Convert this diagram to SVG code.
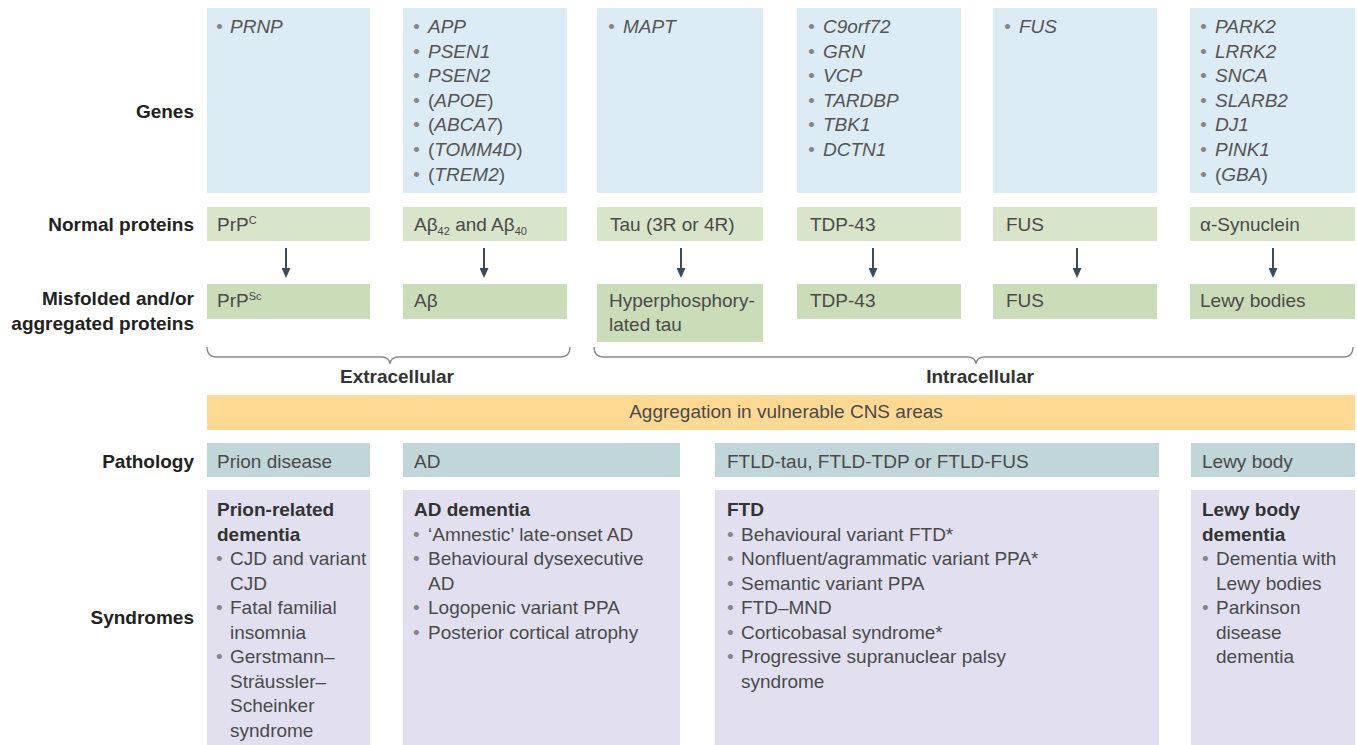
<svg xmlns="http://www.w3.org/2000/svg" width="1357" height="745" viewBox="0 0 1357 745">
<defs>
<style>
.gene{fill:#dcecf4}
.np{fill:#d8e5cb}
.mp{fill:#cbdcb8}
.pa{fill:#c1d6d8}
.sy{fill:#e2e0ef}
.agg{fill:#fdd994}
text{font-family:"Liberation Sans",Arial,sans-serif;font-size:19px;fill:#4a4a4a}
.gi{font-style:italic;fill:#555}
.up{font-style:normal}
.bul{fill:#858585}
.lbl{font-weight:bold;fill:#222;text-anchor:end}
.h{font-weight:bold;fill:#333}
.cap{font-weight:bold;fill:#333;text-anchor:middle}
.sm{font-size:11px}
.arrow{stroke:#3c4b5a;stroke-width:2;fill:none}
.brace{stroke:#8a8a8a;stroke-width:1.3;fill:none}
</style>
<marker id="ah" markerUnits="userSpaceOnUse" markerWidth="10" markerHeight="9" viewBox="0 0 10 9" refX="1" refY="4.5" orient="auto">
<path d="M0,0 L10,4.5 L0,9 z" fill="#3c4b5a"/>
</marker>
</defs>
<rect width="1357" height="745" fill="#ffffff"/>

<g id="row-labels">
<text class="lbl" x="194" y="118">Genes</text>
<text class="lbl" x="194" y="231">Normal proteins</text>
<text class="lbl" x="194" y="305">Misfolded and/or</text>
<text class="lbl" x="194" y="330">aggregated proteins</text>
<text class="lbl" x="194" y="468">Pathology</text>
<text class="lbl" x="194" y="624">Syndromes</text>
</g>

<g id="genes-prion">
<rect class="gene" x="207" y="8" width="163" height="185"/>
<text class="gi"><tspan class="bul" x="216" y="33">•</tspan><tspan x="230" y="33">PRNP</tspan></text>
</g>
<g id="genes-ad">
<rect class="gene" x="403" y="8" width="164" height="185"/>
<text class="gi"><tspan class="bul" x="413" y="33">•</tspan><tspan x="428" y="33">APP</tspan></text>
<text class="gi"><tspan class="bul" x="413" y="57.6">•</tspan><tspan x="428" y="57.6">PSEN1</tspan></text>
<text class="gi"><tspan class="bul" x="413" y="82.2">•</tspan><tspan x="428" y="82.2">PSEN2</tspan></text>
<text class="gi"><tspan class="bul" x="413" y="106.8">•</tspan><tspan x="428" y="106.8"><tspan class="up">(</tspan>APOE<tspan class="up">)</tspan></tspan></text>
<text class="gi"><tspan class="bul" x="413" y="131.4">•</tspan><tspan x="428" y="131.4"><tspan class="up">(</tspan>ABCA7<tspan class="up">)</tspan></tspan></text>
<text class="gi"><tspan class="bul" x="413" y="156">•</tspan><tspan x="428" y="156"><tspan class="up">(</tspan>TOMM4D<tspan class="up">)</tspan></tspan></text>
<text class="gi"><tspan class="bul" x="413" y="180.6">•</tspan><tspan x="428" y="180.6"><tspan class="up">(</tspan>TREM2<tspan class="up">)</tspan></tspan></text>
</g>
<g id="genes-tau">
<rect class="gene" x="597" y="8" width="166" height="185"/>
<text class="gi"><tspan class="bul" x="608" y="33">•</tspan><tspan x="623" y="33">MAPT</tspan></text>
</g>
<g id="genes-tdp">
<rect class="gene" x="797" y="8" width="164" height="185"/>
<text class="gi"><tspan class="bul" x="808" y="33">•</tspan><tspan x="823" y="33">C9orf72</tspan></text>
<text class="gi"><tspan class="bul" x="808" y="57.6">•</tspan><tspan x="823" y="57.6">GRN</tspan></text>
<text class="gi"><tspan class="bul" x="808" y="82.2">•</tspan><tspan x="823" y="82.2">VCP</tspan></text>
<text class="gi"><tspan class="bul" x="808" y="106.8">•</tspan><tspan x="823" y="106.8">TARDBP</tspan></text>
<text class="gi"><tspan class="bul" x="808" y="131.4">•</tspan><tspan x="823" y="131.4">TBK1</tspan></text>
<text class="gi"><tspan class="bul" x="808" y="156">•</tspan><tspan x="823" y="156">DCTN1</tspan></text>
</g>
<g id="genes-fus">
<rect class="gene" x="993" y="8" width="164" height="185"/>
<text class="gi"><tspan class="bul" x="1004" y="33">•</tspan><tspan x="1019" y="33">FUS</tspan></text>
</g>
<g id="genes-lewy">
<rect class="gene" x="1190" y="8" width="165" height="185"/>
<text class="gi"><tspan class="bul" x="1200" y="33">•</tspan><tspan x="1215" y="33">PARK2</tspan></text>
<text class="gi"><tspan class="bul" x="1200" y="57.6">•</tspan><tspan x="1215" y="57.6">LRRK2</tspan></text>
<text class="gi"><tspan class="bul" x="1200" y="82.2">•</tspan><tspan x="1215" y="82.2">SNCA</tspan></text>
<text class="gi"><tspan class="bul" x="1200" y="106.8">•</tspan><tspan x="1215" y="106.8">SLARB2</tspan></text>
<text class="gi"><tspan class="bul" x="1200" y="131.4">•</tspan><tspan x="1215" y="131.4">DJ1</tspan></text>
<text class="gi"><tspan class="bul" x="1200" y="156">•</tspan><tspan x="1215" y="156">PINK1</tspan></text>
<text class="gi"><tspan class="bul" x="1200" y="180.6">•</tspan><tspan x="1215" y="180.6"><tspan class="up">(</tspan>GBA<tspan class="up">)</tspan></tspan></text>
</g>

<g id="normal-proteins">
<rect class="np" x="207" y="207" width="163" height="34"/>
<rect class="np" x="403" y="207" width="164" height="34"/>
<rect class="np" x="597" y="207" width="166" height="34"/>
<rect class="np" x="797" y="207" width="164" height="34"/>
<rect class="np" x="993" y="207" width="164" height="34"/>
<rect class="np" x="1190" y="207" width="165" height="34"/>
<text x="217" y="231">PrP<tspan class="sm" dy="-7">C</tspan></text>
<text x="414" y="231">Aβ<tspan class="sm" dy="4">42</tspan><tspan dy="-4"> and Aβ</tspan><tspan class="sm" dy="4">40</tspan></text>
<text x="610" y="231">Tau (3R or 4R)</text>
<text x="810" y="231">TDP-43</text>
<text x="1006" y="231">FUS</text>
<text x="1200" y="231">α-Synuclein</text>
</g>

<g id="misfolded-proteins">
<rect class="mp" x="207" y="284" width="163" height="35"/>
<rect class="mp" x="403" y="284" width="164" height="35"/>
<rect class="mp" x="597" y="284" width="166" height="58"/>
<rect class="mp" x="797" y="284" width="164" height="35"/>
<rect class="mp" x="993" y="284" width="164" height="35"/>
<rect class="mp" x="1190" y="284" width="165" height="35"/>
<text x="217" y="307">PrP<tspan class="sm" dy="-7">Sc</tspan></text>
<text x="414" y="307">Aβ</text>
<text x="609" y="307">Hyperphosphory-</text>
<text x="609" y="331">lated tau</text>
<text x="810" y="307">TDP-43</text>
<text x="1006" y="307">FUS</text>
<text x="1200" y="307">Lewy bodies</text>
</g>

<g id="connectors">
<line class="arrow" x1="286" y1="248" x2="286" y2="269" marker-end="url(#ah)"/>
<line class="arrow" x1="484" y1="248" x2="484" y2="269" marker-end="url(#ah)"/>
<line class="arrow" x1="681" y1="248" x2="681" y2="269" marker-end="url(#ah)"/>
<line class="arrow" x1="873" y1="248" x2="873" y2="269" marker-end="url(#ah)"/>
<line class="arrow" x1="1077" y1="248" x2="1077" y2="269" marker-end="url(#ah)"/>
<line class="arrow" x1="1273" y1="248" x2="1273" y2="269" marker-end="url(#ah)"/>
</g>

<g id="extracellular">
<path class="brace" d="M207,347 Q207,357 217,357 L382,357 Q389,357 390,364 Q391,357 398,357 L560,357 Q570,357 570,347"/>
<text class="cap" x="397" y="383">Extracellular</text>
</g>
<g id="intracellular">
<path class="brace" d="M594,347 Q594,357 604,357 L968,357 Q975,357 976,364 Q977,357 984,357 L1343,357 Q1353,357 1353,347"/>
<text class="cap" x="980" y="383">Intracellular</text>
</g>

<g id="aggregation">
<rect class="agg" x="207" y="395" width="1148" height="35"/>
<text x="786" y="418" text-anchor="middle">Aggregation in vulnerable CNS areas</text>
</g>

<g id="pathology">
<rect class="pa" x="207" y="443" width="163" height="34"/>
<rect class="pa" x="403" y="443" width="277" height="34"/>
<rect class="pa" x="715" y="443" width="444" height="34"/>
<rect class="pa" x="1191" y="443" width="164" height="34"/>
<text x="217" y="468">Prion disease</text>
<text x="414" y="468">AD</text>
<text x="727" y="468">FTLD-tau, FTLD-TDP or FTLD-FUS</text>
<text x="1202" y="468">Lewy body</text>
</g>

<g id="syndromes-prion">
<rect class="sy" x="207" y="490" width="163" height="255"/>
<text class="h" x="217" y="516">Prion-related</text>
<text class="h" x="217" y="540.5">dementia</text>
<text><tspan class="bul" x="216" y="565">•</tspan><tspan x="230" y="565">CJD and variant</tspan></text>
<text x="230" y="589.5">CJD</text>
<text><tspan class="bul" x="216" y="614">•</tspan><tspan x="230" y="614">Fatal familial</tspan></text>
<text x="230" y="638.5">insomnia</text>
<text><tspan class="bul" x="216" y="663">•</tspan><tspan x="230" y="663">Gerstmann–</tspan></text>
<text x="230" y="687.5">Sträussler–</text>
<text x="230" y="712">Scheinker</text>
<text x="230" y="736.5">syndrome</text>
</g>
<g id="syndromes-ad">
<rect class="sy" x="403" y="490" width="277" height="255"/>
<text class="h" x="414" y="516">AD dementia</text>
<text><tspan class="bul" x="413" y="540.5">•</tspan><tspan x="428" y="540.5">‘Amnestic’ late-onset AD</tspan></text>
<text><tspan class="bul" x="413" y="565">•</tspan><tspan x="428" y="565">Behavioural dysexecutive</tspan></text>
<text x="428" y="589.5">AD</text>
<text><tspan class="bul" x="413" y="614">•</tspan><tspan x="428" y="614">Logopenic variant PPA</tspan></text>
<text><tspan class="bul" x="413" y="638.5">•</tspan><tspan x="428" y="638.5">Posterior cortical atrophy</tspan></text>
</g>
<g id="syndromes-ftd">
<rect class="sy" x="715" y="490" width="444" height="255"/>
<text class="h" x="727" y="516">FTD</text>
<text><tspan class="bul" x="727" y="540.5">•</tspan><tspan x="741" y="540.5">Behavioural variant FTD*</tspan></text>
<text><tspan class="bul" x="727" y="565">•</tspan><tspan x="741" y="565">Nonfluent/agrammatic variant PPA*</tspan></text>
<text><tspan class="bul" x="727" y="589.5">•</tspan><tspan x="741" y="589.5">Semantic variant PPA</tspan></text>
<text><tspan class="bul" x="727" y="614">•</tspan><tspan x="741" y="614">FTD–MND</tspan></text>
<text><tspan class="bul" x="727" y="638.5">•</tspan><tspan x="741" y="638.5">Corticobasal syndrome*</tspan></text>
<text><tspan class="bul" x="727" y="663">•</tspan><tspan x="741" y="663">Progressive supranuclear palsy</tspan></text>
<text x="741" y="687.5">syndrome</text>
</g>
<g id="syndromes-lewy">
<rect class="sy" x="1191" y="490" width="164" height="255"/>
<text class="h" x="1202" y="516">Lewy body</text>
<text class="h" x="1202" y="540.5">dementia</text>
<text><tspan class="bul" x="1202" y="565">•</tspan><tspan x="1216" y="565">Dementia with</tspan></text>
<text x="1216" y="589.5">Lewy bodies</text>
<text><tspan class="bul" x="1202" y="614">•</tspan><tspan x="1216" y="614">Parkinson</tspan></text>
<text x="1216" y="638.5">disease</text>
<text x="1216" y="663">dementia</text>
</g>
</svg>
